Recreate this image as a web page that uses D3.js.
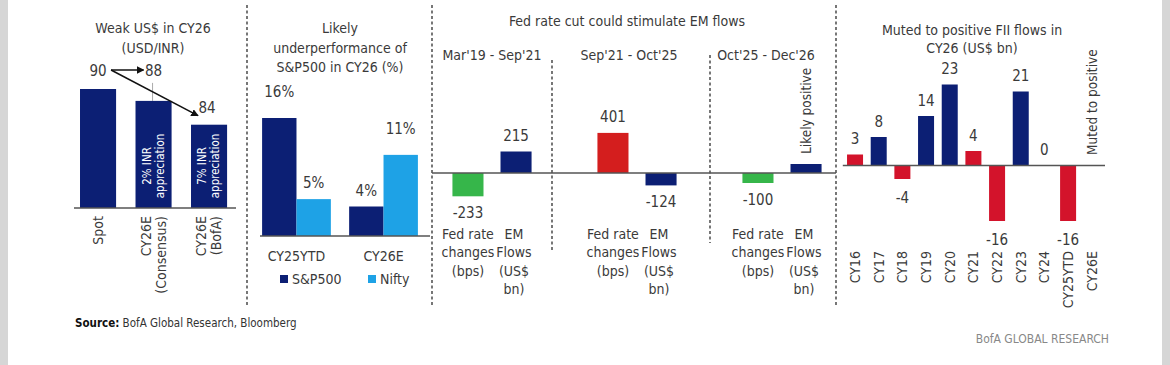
<!DOCTYPE html>
<html><head><meta charset="utf-8">
<script src="https://cdn.jsdelivr.net/npm/d3@7"></script>
<style>
html,body{margin:0;padding:0;background:#fff;}
svg{display:block;}
</style></head>
<body>
<svg id="chart" width="1170" height="365"></svg>
<script>
// ---------- DATA ----------
const usdCategories = ["Spot", "CY26E (Consensus)", "CY26E (BofA)"];
const usdLabelLines = [["Spot"], ["CY26E", "(Consensus)"], ["CY26E", "(BofA)"]];
const usdValues = [90, 88, 84];
const usdNotes = [null, ["2% INR", "appreciation"], ["7% INR", "appreciation"]];

const perfCategories = ["CY25YTD", "CY26E"];
const perfSeries = ["S&P500", "Nifty"];
const spValues = [16, 4];
const niftyValues = [5, 11];

const fedPeriods = ["Mar'19 - Sep'21", "Sep'21 - Oct'25", "Oct'25 - Dec'26"];
const fedRateChanges = [-233, 401, -100];
const emFlows = [215, -124, 90];
const emFlowLabels = ["215", "-124", null];
const fedCatLines = [["Fed rate", "changes", "(bps)"], ["EM", "Flows", "(US$", "bn)"]];

const fiiYears = ["CY16","CY17","CY18","CY19","CY20","CY21","CY22","CY23","CY24","CY25YTD","CY26E"];
const fiiValues = [3, 8, -4, 14, 23, 4, -16, 21, 0, -16, null];
const fiiGroup = ["b","a","b","a","a","b","b","a","a","b",null];

// ---------- STYLE ----------
const FONT = "'Liberation Sans Narrow','DejaVu Sans Condensed','Roboto Condensed','Roboto',sans-serif";
const NAVY = "#0c1f74", LBLUE = "#1ea2e6", RED = "#d3132b", GREEN = "#36b64a";
const TXT = "#3a3a3a", AXIS = "#555";
const FS_T = 14, FS_V = 15, FS_C = 14;

const svg = d3.select("#chart").style("font-family", FONT);
svg.append("rect").attr("width", 1170).attr("height", 365).attr("fill", "#fff");
svg.append("rect").attr("x", 0).attr("width", 8).attr("height", 365).attr("fill", "#d6d6d6");
svg.append("rect").attr("x", 1162).attr("width", 8).attr("height", 365).attr("fill", "#d6d6d6");

function multiText(g, x, y, lines, lh, opts = {}) {
  const t = g.append("text").attr("x", x).attr("y", y)
    .attr("text-anchor", opts.anchor || "middle")
    .attr("font-size", opts.size || FS_T).attr("fill", opts.fill || TXT);
  lines.forEach((l, i) => t.append("tspan").attr("x", x).attr("dy", i === 0 ? 0 : lh).text(l));
  return t;
}
function vdash(x, y0, y1) {
  svg.append("line").attr("x1", x).attr("x2", x).attr("y1", y0).attr("y2", y1)
    .attr("stroke", "#555").attr("stroke-width", 1.6).attr("stroke-dasharray", "3,2.5");
}

// separators
vdash(247, 5, 305);
vdash(432, 5, 305);
vdash(836, 5, 305);

// ---------- PANEL 1 ----------
const p1 = svg.append("g");
const y1 = d3.scaleLinear().domain([70, 90]).range([208, 89]);
const x1 = d3.scaleBand().domain(usdCategories).range([70.3, 236.8]).paddingInner(0.35).paddingOuter(0.175);
multiText(p1, 153, 33, ["Weak US$ in CY26", "(USD/INR)"], 19.5);
p1.append("line").attr("x1", x1(usdCategories[1]) + x1.bandwidth() / 2 - 1).attr("x2", x1(usdCategories[1]) + x1.bandwidth() / 2 - 1)
  .attr("y1", y1(usdValues[1]) - 18).attr("y2", y1(usdValues[1])).attr("stroke", "#aaa").attr("stroke-width", 1);
p1.selectAll("rect.b").data(usdValues).join("rect")
  .attr("x", (d, i) => x1(usdCategories[i])).attr("width", x1.bandwidth())
  .attr("y", d => y1(d)).attr("height", d => y1(70) - y1(d)).attr("fill", NAVY);
p1.append("line").attr("x1", 74).attr("x2", 236).attr("y1", y1(70)).attr("y2", y1(70)).attr("stroke", AXIS).attr("stroke-width", 1.5);
const topLabelY = y1(usdValues[0]) - 13;
usdValues.forEach((v, i) => {
  const cx = x1(usdCategories[i]) + x1.bandwidth() / 2;
  const ly = i === 2 ? y1(v) - 12 : topLabelY;
  p1.append("text").attr("x", cx + (i === 2 ? -2 : 0)).attr("y", ly).attr("text-anchor", "middle")
    .attr("font-size", FS_V).attr("fill", TXT).text(v);
});
svg.append("defs").append("marker").attr("id", "ah").attr("viewBox", "0 0 10 10").attr("refX", 9).attr("refY", 5)
  .attr("markerWidth", 5).attr("markerHeight", 5).attr("orient", "auto")
  .append("path").attr("d", "M0,0 L10,5 L0,10 z").attr("fill", "#111");
const ax0 = x1(usdCategories[0]) + x1.bandwidth() / 2 + 13, ay0 = topLabelY - 6;
p1.append("line").attr("x1", ax0).attr("y1", ay0).attr("x2", x1(usdCategories[1]) + x1.bandwidth() / 2 - 10).attr("y2", ay0)
  .attr("stroke", "#111").attr("stroke-width", 1.5).attr("marker-end", "url(#ah)");
p1.append("line").attr("x1", ax0).attr("y1", ay0).attr("x2", x1(usdCategories[2]) + 7).attr("y2", y1(usdValues[2]) - 9)
  .attr("stroke", "#111").attr("stroke-width", 1.5).attr("marker-end", "url(#ah)");
usdNotes.forEach((n, i) => {
  if (!n) return;
  const cx = x1(usdCategories[i]) + x1.bandwidth() / 2;
  const cy = y1(70) - 42;
  const t = p1.append("text").attr("transform", `translate(${cx},${cy}) rotate(-90)`)
    .attr("text-anchor", "middle").attr("font-size", 11.5).attr("fill", "#fff");
  n.forEach((l, j) => t.append("tspan").attr("x", 0).attr("y", j === 0 ? -3 : 10).text(l));
});
usdLabelLines.forEach((lines, i) => {
  const cx = x1(usdCategories[i]) + x1.bandwidth() / 2;
  const t = p1.append("text").attr("transform", `translate(${cx},${y1(70) + 8}) rotate(-90)`)
    .attr("text-anchor", "end").attr("font-size", FS_C).attr("fill", TXT);
  const off = lines.length === 1 ? [5] : [-3, 12];
  lines.forEach((l, j) => t.append("tspan").attr("x", 0).attr("y", off[j]).text(l));
});

// ---------- PANEL 2 ----------
const p2 = svg.append("g");
const y2 = d3.scaleLinear().domain([0, 16]).range([236, 118]);
const x2 = d3.scaleBand().domain(perfCategories).range([252, 428]).paddingInner(0.21).paddingOuter(0.116);
const x2i = d3.scaleBand().domain(perfSeries).range([0, x2.bandwidth()]);
const col2 = d3.scaleOrdinal().domain(perfSeries).range([NAVY, LBLUE]);
multiText(p2, 340, 33, ["Likely", "underperformance of", "S&P500 in CY26 (%)"], 19.5);
const perfData = [];
perfCategories.forEach((c, i) => {
  perfData.push({ c, s: perfSeries[0], v: spValues[i] });
  perfData.push({ c, s: perfSeries[1], v: niftyValues[i] });
});
p2.selectAll("rect").data(perfData).join("rect")
  .attr("x", d => x2(d.c) + x2i(d.s)).attr("width", x2i.bandwidth())
  .attr("y", d => y2(d.v)).attr("height", d => y2(0) - y2(d.v)).attr("fill", d => col2(d.s));
p2.selectAll("text.v").data(perfData).join("text").attr("class", "v")
  .attr("x", d => x2(d.c) + x2i(d.s) + x2i.bandwidth() / 2)
  .attr("y", d => y2(d.v) - (d.v >= 10 ? 21 : 11))
  .attr("text-anchor", "middle").attr("font-size", FS_V).attr("fill", TXT).text(d => d.v + "%");
p2.append("line").attr("x1", 260).attr("x2", 430).attr("y1", y2(0)).attr("y2", y2(0)).attr("stroke", AXIS).attr("stroke-width", 1.5);
const ax2 = p2.append("g").attr("transform", `translate(0,${y2(0)})`)
  .call(d3.axisBottom(x2).tickSize(0).tickPadding(0));
ax2.select(".domain").remove();
ax2.selectAll("text").attr("y", 25).attr("dy", 0).attr("font-size", FS_C).attr("font-family", FONT).attr("fill", TXT);
const lg = p2.append("g");
perfSeries.forEach((s, i) => {
  const lx = i === 0 ? 280 : 368;
  lg.append("rect").attr("x", lx).attr("y", 275).attr("width", 8).attr("height", 8).attr("fill", col2(s));
  lg.append("text").attr("x", lx + 12).attr("y", 284).attr("font-size", FS_C).attr("fill", TXT).text(s);
});

// ---------- PANEL 3 ----------
const p3 = svg.append("g");
const y3 = d3.scaleLinear().domain([0, 400]).range([173, 133]);
const x3 = d3.scaleBand().domain(fedPeriods).range([434, 840]).paddingInner(0.33).paddingOuter(0.065);
const x3i = d3.scaleBand().domain(["fed", "em"]).range([0, x3.bandwidth()]).paddingInner(0.354).paddingOuter(0.1875);
p3.append("text").attr("x", 627).attr("y", 26).attr("text-anchor", "middle").attr("font-size", FS_T).attr("fill", TXT)
  .text("Fed rate cut could stimulate EM flows");
fedPeriods.forEach((p, i) => {
  const subX = [492, 629, 766][i];
  p3.append("text").attr("x", subX).attr("y", 60).attr("text-anchor", "middle").attr("font-size", FS_T).attr("fill", TXT).text(p);
});
vdash(552, 60, 250);
vdash(710, 55, 243);
const fedData = [];
fedPeriods.forEach((p, i) => {
  fedData.push({ p, k: "fed", v: fedRateChanges[i], lab: String(fedRateChanges[i]) });
  fedData.push({ p, k: "em", v: emFlows[i], lab: emFlowLabels[i] });
});
p3.selectAll("rect").data(fedData).join("rect")
  .attr("x", d => x3(d.p) + x3i(d.k)).attr("width", x3i.bandwidth())
  .attr("y", d => y3(Math.max(0, d.v))).attr("height", d => Math.abs(y3(d.v) - y3(0)))
  .attr("fill", d => d.k === "em" ? NAVY : (d.v < 0 ? GREEN : "#d41e1e"));
p3.append("line").attr("x1", 432).attr("x2", 836).attr("y1", y3(0)).attr("y2", y3(0)).attr("stroke", AXIS).attr("stroke-width", 1.5);
p3.selectAll("text.v").data(fedData.filter(d => d.lab)).join("text").attr("class", "v")
  .attr("x", d => x3(d.p) + x3i(d.k) + x3i.bandwidth() / 2)
  .attr("y", d => d.v >= 0 ? y3(d.v) - 11 : y3(d.v) + 22)
  .attr("text-anchor", "middle").attr("font-size", FS_V).attr("fill", TXT).text(d => d.lab);
{
  const d = fedData[5];
  const cx = x3(d.p) + x3i(d.k) + x3i.bandwidth() / 2;
  p3.append("text").attr("transform", `translate(${cx + 5},${y3(d.v) - 10}) rotate(-90)`)
    .attr("text-anchor", "start").attr("font-size", 13.5).attr("fill", TXT).text("Likely positive");
}
fedPeriods.forEach(p => {
  ["fed", "em"].forEach((k, j) => {
    const cx = x3(p) + x3i(k) + x3i.bandwidth() / 2 + (k === "em" ? -2 : 0);
    multiText(p3, cx, 238.5, fedCatLines[j], 18.5, { size: FS_C });
  });
});

// ---------- PANEL 4 ----------
const p4 = svg.append("g");
const y4 = d3.scaleLinear().domain([0, 23]).range([165, 84.5]);
const x4 = d3.scaleBand().domain(fiiYears).range([842.3, 1104.5]).paddingInner(0.324).paddingOuter(0.2);
multiText(p4, 972, 35, ["Muted to positive FII flows in", "CY26 (US$ bn)"], 18);
const fiiData = fiiYears.map((y, i) => ({ y, v: fiiValues[i], g: fiiGroup[i] })).filter(d => d.v !== null);
p4.selectAll("rect").data(fiiData).join("rect")
  .attr("x", d => x4(d.y)).attr("width", x4.bandwidth())
  .attr("y", d => y4(Math.max(0, d.v))).attr("height", d => Math.abs(y4(d.v) - y4(0)))
  .attr("fill", d => d.g === "a" ? NAVY : RED);
p4.selectAll("text.v").data(fiiData).join("text").attr("class", "v")
  .attr("x", d => x4(d.y) + x4.bandwidth() / 2)
  .attr("y", d => d.v >= 0 ? y4(d.v) - 10.5 : y4(d.v) + 23.5)
  .attr("text-anchor", "middle").attr("font-size", FS_V).attr("fill", TXT).text(d => d.v);
const ax4 = p4.append("g").attr("transform", `translate(0,${y4(0)})`)
  .call(d3.axisBottom(x4).tickSize(0).tickPadding(0));
ax4.select(".domain").attr("stroke", AXIS).attr("stroke-width", 1.5);
ax4.selectAll("text").attr("transform", "rotate(-90)").attr("text-anchor", "end")
  .attr("x", -(251 - 165)).attr("y", 0).attr("dy", "0.35em")
  .attr("font-size", FS_C).attr("font-family", FONT).attr("fill", TXT);
p4.append("text").attr("transform", `translate(${x4("CY26E") + x4.bandwidth() / 2 + 5},${y4(0) - 10}) rotate(-90)`)
  .attr("text-anchor", "start").attr("font-size", 13.5).attr("fill", TXT).text("Muted to positive");

// ---------- FOOTER ----------
const src = svg.append("text").attr("x", 75).attr("y", 327).attr("font-size", 11.5).attr("fill", "#333");
src.append("tspan").attr("font-weight", "bold").attr("fill", "#111").text("Source:");
src.append("tspan").text(" BofA Global Research, Bloomberg");
svg.append("text").attr("x", 1109).attr("y", 343).attr("text-anchor", "end").attr("font-size", 12)
  .attr("fill", "#888").text("BofA GLOBAL RESEARCH");
</script>
</body></html>
